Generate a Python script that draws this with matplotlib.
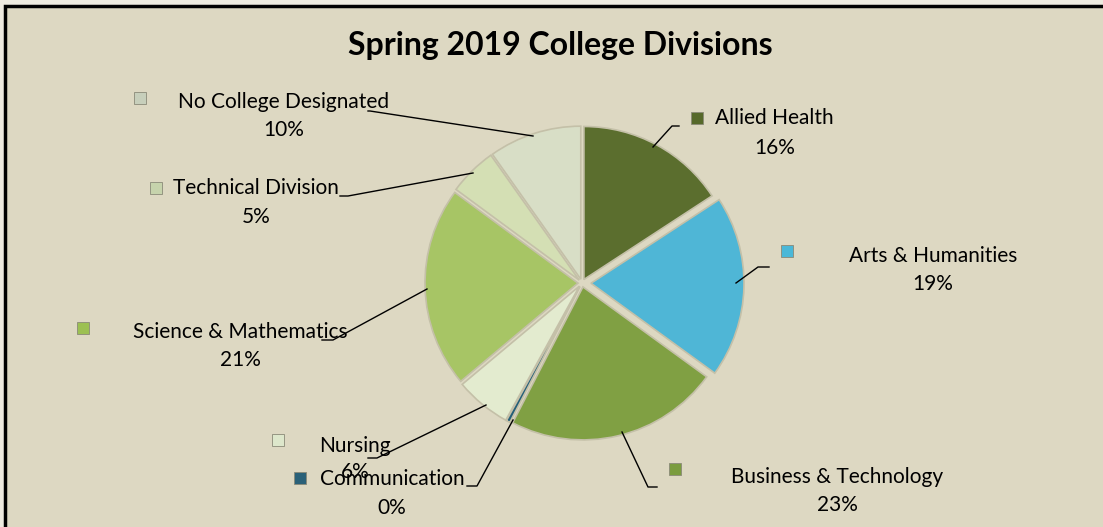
import matplotlib.pyplot as plt
from matplotlib.patches import Rectangle

# data
divisions = ["Allied Health", "Arts & Humanities", "Business & Technology",
             "Communication", "Nursing", "Science & Mathematics",
             "Technical Division", "No College Designated"]
shares = [15.8, 19.2, 22.6, 0.4, 5.9, 21.2, 5.1, 9.8]
slice_colors = ["#5b6e2e", "#4fb6d6", "#80a043", "#245f78",
                "#e3ebcf", "#a7c565", "#d4dfb4", "#d8dec6"]
marker_colors = ["#56692a", "#4ab8d8", "#7a9c3e", "#2a6178",
                 "#dde7cb", "#9cc052", "#c6d3ac", "#c7cfbb"]

# layout (pixels, y down)
W, H = 1103, 527
center = (582, 283)
radius = 153
explode = [4, 9, 4, 4, 4, 4, 4, 4]
# name centre, pct centre, marker, leader line points
label_pos = [
    ((774, 118), (775, 148), (697, 118), [(653, 147), (672, 126), (679, 126)]),
    ((933, 256), (933, 284), (787, 251), [(736, 283), (758, 267), (769, 267)]),
    ((837, 477), (837, 505), (675, 469), [(622, 432), (648, 487), (657, 487)]),
    ((392, 479), (392, 508), (300, 478), [(513, 420), (477, 486), (467, 486)]),
    ((355, 446), (355, 472), (278, 440), [(486, 405), (377, 458), (368, 458)]),
    ((240, 332), (240, 360), (83, 328), [(427, 289), (333, 340), (322, 340)]),
    ((256, 188), (256, 217), (156, 188), [(473, 173), (348, 196), (340, 196)]),
    ((284, 102), (284, 130), (140, 98), [(533, 136), (370, 111), (368, 111)]),
]

plt.rcParams['font.family'] = ['Lato', 'DejaVu Sans']

fig = plt.figure(figsize=(W / 100, H / 100), dpi=100)
fig.patch.set_facecolor("#eeebe0")
ax = fig.add_axes([0, 0, 1, 1])

ax.add_patch(Rectangle((5, 6), W + 20, H + 20, facecolor="#ddd8c2",
                       edgecolor="black", linewidth=2.5, zorder=0))

wedges, _ = ax.pie(shares, colors=slice_colors, explode=explode,
                   center=center, radius=radius, startangle=-90,
                   counterclock=True, frame=True,
                   wedgeprops=dict(edgecolor="#c4c0a8", linewidth=1.2))
ax.set_xlim(0, W)
ax.set_ylim(H, 0)
ax.set_aspect("equal")
ax.axis("off")

for name, val, mcol, (npos, ppos, mpos, line) in zip(divisions, shares,
                                                      marker_colors, label_pos):
    ax.text(npos[0], npos[1], name, ha="center", va="center", fontsize=15,
            color="black", zorder=5)
    ax.text(ppos[0], ppos[1], "%d%%" % round(val), ha="center", va="center",
            fontsize=15, color="black", zorder=5)
    ax.add_patch(Rectangle((mpos[0] - 6, mpos[1] - 6), 12, 12,
                           facecolor=mcol, edgecolor="#8a8a78",
                           linewidth=0.6, zorder=5))
    xs = [p[0] for p in line]
    ys = [p[1] for p in line]
    ax.plot(xs, ys, color="black", linewidth=1, zorder=4)

ax.text(560, 45, "Spring 2019 College Divisions", ha="center", va="center",
        fontsize=23, fontweight="bold", color="black")

fig.savefig("out.png", dpi=100, facecolor=fig.get_facecolor())
